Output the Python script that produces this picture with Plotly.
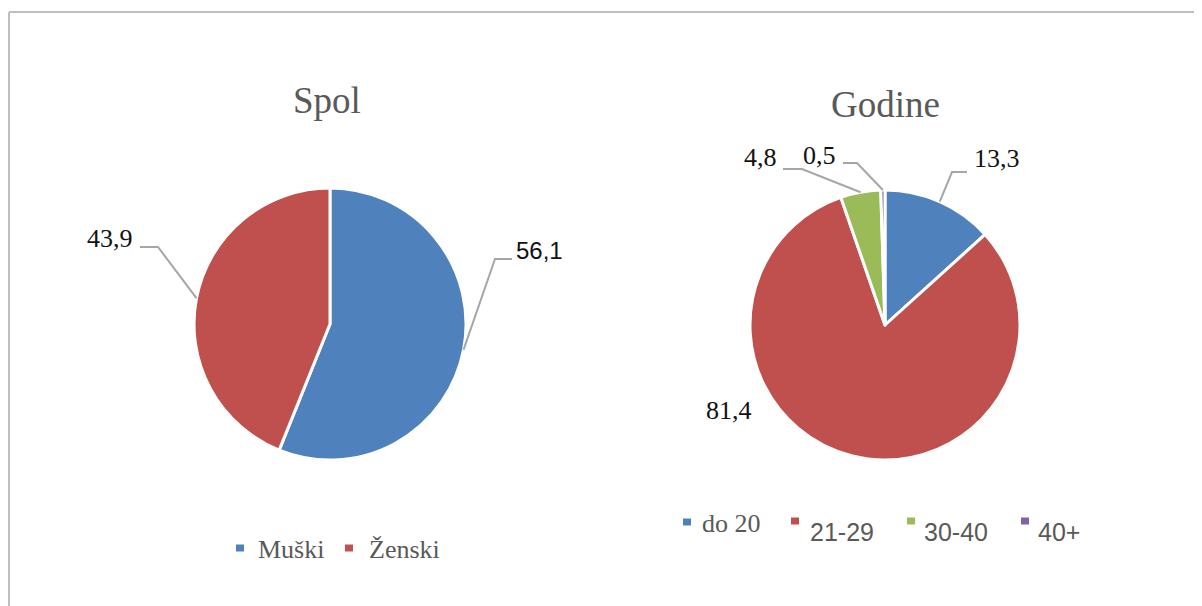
import plotly.graph_objects as go
import math

# ---- data ----
spol_labels = ["Muški", "Ženski"]
spol_values = [56.1, 43.9]
spol_text = ["56,1", "43,9"]

god_labels = ["do 20", "21-29", "30-40", "40+"]
god_values = [13.3, 81.4, 4.8, 0.5]
god_text = ["13,3", "81,4", "4,8", "0,5"]

titles = ["Spol", "Godine"]

# ---- style / layout ----
W, H = 1202, 606
OFF = 8  # page body margin offset
BLUE, RED, GREEN, PURPLE = "#4F81BD", "#C0504D", "#9BBB59", "#8064A2"
spol_colors = [BLUE, RED]
god_colors = [BLUE, RED, GREEN, PURPLE]


def px(x):
    return (x - OFF) / W


def py(y):
    return 1 - (y - OFF) / H


# pie geometry in pixels: center x, center y, radius
PIE_L = (330, 324, 136)
PIE_R = (885, 325, 135)


def dom(g):
    cx, cy, r = g
    return dict(x=[px(cx - r), px(cx + r)], y=[py(cy + r), py(cy - r)])


fig = go.Figure()
fig.add_trace(go.Pie(labels=spol_labels, values=spol_values, sort=False,
                     direction="clockwise", rotation=0, textinfo="none",
                     marker=dict(colors=spol_colors, line=dict(color="white", width=3)),
                     domain=dom(PIE_L), showlegend=False, hoverinfo="label+value"))
fig.add_trace(go.Pie(labels=god_labels, values=god_values, sort=False,
                     direction="clockwise", rotation=0, textinfo="none",
                     marker=dict(colors=god_colors, line=dict(color="white", width=3)),
                     domain=dom(PIE_R), showlegend=False, hoverinfo="label+value"))


def anchors(values, g):
    cx, cy, r = g
    tot = sum(values)
    out = []
    cum = 0
    for v in values:
        mid = (cum + v / 2) / tot * 2 * math.pi
        cum += v
        out.append((cx + r * math.sin(mid), cy - r * math.cos(mid)))
    return out


SERIF = "Liberation Serif"
SANS = "Liberation Sans"
# label layout: (text center px, font, size, elbow pts [outer, inner] or None)
spol_lab_layout = [
    ((539, 250), SANS, 24, [(512, 259), (495, 259)]),
    ((110, 238), SERIF, 26, [(140, 247), (158, 247)]),
]
god_lab_layout = [
    ((997, 158), SERIF, 26, [(967, 172), (952, 172)]),
    ((729, 410), SERIF, 26, None),
    ((760, 157), SERIF, 26, [(783, 169), (802, 169)]),
    ((819, 155), SERIF, 26, [(843, 163), (857, 163)]),
]

annotations = []
shapes = []


def add_labels(texts, values, g, layout):
    for t, a, (pos, font, size, elbow) in zip(texts, anchors(values, g), layout):
        annotations.append(dict(x=px(pos[0]), y=py(pos[1]), xref="paper", yref="paper",
                                text=t, showarrow=False, xanchor="center", yanchor="middle",
                                font=dict(family=font, size=size, color="#111111")))
        if elbow:
            pts = elbow + [a]
            path = "M " + " L ".join(f"{px(x)},{py(y)}" for x, y in pts)
            shapes.append(dict(type="path", path=path, xref="paper", yref="paper",
                               line=dict(color="#A6A6A6", width=2)))


add_labels(spol_text, spol_values, PIE_L, spol_lab_layout)
add_labels(god_text, god_values, PIE_R, god_lab_layout)

# titles
for t, (x, y) in zip(titles, [(327, 100), (885, 104)]):
    annotations.append(dict(x=px(x), y=py(y), xref="paper", yref="paper", text=t,
                            showarrow=False, xanchor="center", yanchor="middle",
                            font=dict(family=SERIF, size=37, color="#595959")))

# legends (square center, text left/middle, font, size)
spol_leg = [((240, 548), (256, 549), SERIF, 26), ((349, 548), (367, 549), SERIF, 26)]
god_leg = [((687, 522), (700, 523), SERIF, 26), ((795, 521), (808, 532), SANS, 25),
           ((911, 521), (922, 532), SANS, 25), ((1025, 521), (1036, 532), SANS, 25)]


def add_legend(labels, colors, lay):
    for lab, c, (sq, tx, font, size) in zip(labels, colors, lay):
        shapes.append(dict(type="rect", xref="paper", yref="paper",
                           x0=px(sq[0] - 4), x1=px(sq[0] + 4), y0=py(sq[1] + 3.5), y1=py(sq[1] - 3.5),
                           fillcolor=c, line=dict(width=0)))
        annotations.append(dict(x=px(tx[0]), y=py(tx[1]), xref="paper", yref="paper", text=lab,
                                showarrow=False, xanchor="left", yanchor="middle",
                                font=dict(family=font, size=size, color="#595959")))


add_legend(spol_labels, spol_colors, spol_leg)
add_legend(god_labels, god_colors, god_leg)

# frame lines
shapes.append(dict(type="line", xref="paper", yref="paper", x0=px(9), x1=1.0, y0=py(12), y1=py(12),
                   line=dict(color="#BFBFBF", width=2)))
shapes.append(dict(type="line", xref="paper", yref="paper", x0=px(9), x1=px(9), y0=py(12), y1=0,
                   line=dict(color="#BFBFBF", width=2)))

fig.update_layout(width=W, height=H, autosize=False, margin=dict(l=0, r=0, t=0, b=0),
                  paper_bgcolor="white", plot_bgcolor="white",
                  annotations=annotations, shapes=shapes, showlegend=False)

fig.write_html("out.html")
